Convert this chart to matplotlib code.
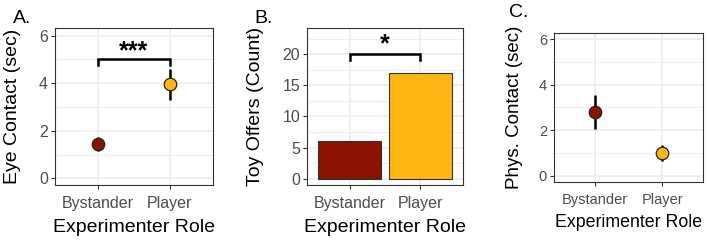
import matplotlib
matplotlib.use("Agg")
import matplotlib.pyplot as plt
import numpy as np

plt.rcParams['font.family'] = ['Liberation Sans', 'DejaVu Sans']

roles = ["Bystander", "Player"]
colors = ["#8B1200", "#FFB612"]

eye_mean = [1.45, 3.95]
eye_lo = [1.15, 3.30]
eye_hi = [1.75, 4.60]

toy_counts = [6, 17]

phys_mean = [2.80, 1.00]
phys_lo = [2.05, 0.65]
phys_hi = [3.55, 1.35]

fig = plt.figure(figsize=(7.07, 2.4), dpi=100)

axA = fig.add_axes([55/707, 1-185/240, 158/707, 157/240])
axB = fig.add_axes([307/707, 1-185/240, 156/707, 157/240])
axC = fig.add_axes([554/707, 1-182/240, 149/707, 149/240])

grey = "#4D4D4D"

def style(ax, yticks, minor, ylim, tsize=11.5, lsize=14, lpad=6):
    x = np.arange(1, len(roles)+1)
    ax.set_xlim(0.4, 2.6)
    ax.set_ylim(*ylim)
    ax.set_xticks(x)
    ax.set_xticklabels(roles)
    ax.set_yticks(yticks)
    ax.set_yticks(minor, minor=True)
    ax.tick_params(axis='y', which='minor', length=0)
    ax.tick_params(axis='both', which='major', length=3, width=0.8, color="#333333",
                   labelsize=tsize, labelcolor=grey, pad=2)
    ax.tick_params(axis='x', which='major', pad=5)
    ax.grid(True, which='major', color="#EBEBEB", linewidth=1.1, zorder=0)
    ax.grid(True, which='minor', axis='y', color="#EBEBEB", linewidth=0.6, zorder=0)
    ax.set_axisbelow(True)
    for s in ax.spines.values():
        s.set_color("#333333")
        s.set_linewidth(0.8)
    ax.set_xlabel("Experimenter Role", fontsize=lsize, labelpad=lpad)

def points(ax, mean, lo, hi):
    x = np.arange(1, len(roles)+1)
    for xi, m, l, h, c in zip(x, mean, lo, hi, colors):
        ax.plot([xi, xi], [l, h], color="black", lw=1.8, zorder=3, solid_capstyle='butt')
        ax.plot([xi], [m], 'o', markersize=9, markerfacecolor=c,
                markeredgecolor="#222222", markeredgewidth=0.9, zorder=4)

def bracket(ax, y, drop, text, ty, size):
    ax.plot([1, 1, 2, 2], [y-drop, y, y, y-drop], color="black", lw=1.8, zorder=5,
            solid_joinstyle='miter')
    ax.text(1.5, ty, text, ha='center', va='center', fontsize=size, fontweight='bold',
            color="black", zorder=6)

# Panel A
style(axA, [0, 2, 4, 6], [1, 3, 5], (-0.28, 6.32))
points(axA, eye_mean, eye_lo, eye_hi)
bracket(axA, 5.0, 0.25, "***", 5.35, 18)
axA.set_ylabel("Eye Contact (sec)", fontsize=14)
axA.yaxis.set_label_coords(-0.215, 0.5)

# Panel B
style(axB, [0, 5, 10, 15, 20], [2.5, 7.5, 12.5, 17.5, 22.5], (-1.0, 24.2))
axB.bar(np.arange(1, 3), toy_counts, width=0.9, color=colors, edgecolor="#333333",
        linewidth=0.8, zorder=3)
bracket(axB, 20.0, 1.0, "*", 21.6, 18)
axB.set_ylabel("Toy Offers (Count)", fontsize=14)
axB.yaxis.set_label_coords(-0.275, 0.5)

# Panel C
style(axC, [0, 2, 4, 6], [1, 3, 5], (-0.27, 6.27), tsize=10.5, lsize=12.8, lpad=5)
points(axC, phys_mean, phys_lo, phys_hi)
axC.set_ylabel("Phys. Contact (sec)", fontsize=13.5)
axC.yaxis.set_label_coords(-0.205, 0.5)

fig.text(13/707, 1-23/240, "A.", fontsize=14, ha='left', va='baseline')
fig.text(254/707, 1-23/240, "B.", fontsize=14, ha='left', va='baseline')
fig.text(509/707, 1-17/240, "C.", fontsize=14, ha='left', va='baseline')

fig.savefig("out.png", dpi=100)
